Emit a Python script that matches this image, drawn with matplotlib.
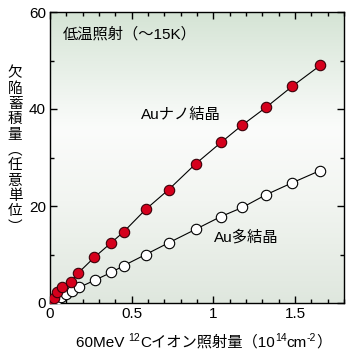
import numpy as np
import matplotlib
matplotlib.use("Agg")
import matplotlib.pyplot as plt
from matplotlib.colors import LinearSegmentedColormap
from matplotlib.ticker import MultipleLocator

plt.rcParams['font.family'] = ['Liberation Sans', 'Noto Sans CJK JP']

# data
nano_x = [0, 0.025, 0.045, 0.075, 0.127, 0.173, 0.271, 0.374, 0.452, 0.586, 0.727, 0.892, 1.047, 1.174, 1.325, 1.484, 1.655]
nano_y = [0, 1.0, 2.2, 3.2, 4.4, 6.2, 9.4, 12.4, 14.7, 19.3, 23.4, 28.7, 33.1, 36.6, 40.4, 44.7, 49.0]
poly_x = [0.005, 0.037, 0.067, 0.098, 0.133, 0.178, 0.274, 0.375, 0.451, 0.586, 0.726, 0.892, 1.045, 1.178, 1.321, 1.484, 1.653]
poly_y = [0, 0.5, 1.2, 1.8, 2.5, 3.2, 4.7, 6.3, 7.7, 10.0, 12.4, 15.2, 17.8, 19.7, 22.3, 24.8, 27.3]
x_ticks = [0, 0.5, 1, 1.5]
x_ticklabels = ['0', '0.5', '1', '1.5']
y_ticks = [0, 20, 40, 60]

W, H = 350, 357
fig = plt.figure(figsize=(W/100, H/100), dpi=100)
ax = fig.add_axes([50/W, 1-303/H, 294/W, 291/H])

# background gradient
cmap = LinearSegmentedColormap.from_list('bg', [
    (0.0, '#dfe7de'), (0.35, '#f2f5f1'), (0.6, '#fbfcfb'), (1.0, '#d5e4d5')])
grad = np.linspace(0, 1, 256).reshape(-1, 1)
ax.imshow(grad, aspect='auto', cmap=cmap, origin='lower',
          extent=[0, 1, 0, 1], transform=ax.transAxes, zorder=0)

ax.plot(poly_x, poly_y, '-', color='black', lw=0.8, zorder=2)
ax.plot(poly_x, poly_y, 'o', ms=7.5, mfc='white', mec='black', mew=0.8, zorder=3)
ax.plot(nano_x, nano_y, '-', color='black', lw=0.8, zorder=4)
ax.plot(nano_x, nano_y, 'o', ms=7.5, mfc='#d5001c', mec='#3a0008', mew=0.8, zorder=5)

ax.set_xlim(0, 1.8)
ax.set_ylim(0, 60)
ax.set_xticks(x_ticks)
ax.set_xticklabels(x_ticklabels)
ax.set_yticks(y_ticks)
ax.xaxis.set_minor_locator(MultipleLocator(0.1))
ax.yaxis.set_minor_locator(MultipleLocator(10))
ax.tick_params(which='both', direction='in', top=True, right=True, labelsize=11, width=1)
ax.tick_params(which='major', length=5, pad=3)
ax.tick_params(which='minor', length=3)
for s in ax.spines.values():
    s.set_linewidth(1)

ax.text(0.045, 0.925, '低温照射（～15K）', transform=ax.transAxes, fontsize=11, va='center', ha='left')
ax.text(0.31, 0.645, 'Auナノ結晶', transform=ax.transAxes, fontsize=11, va='center', ha='left')
ax.text(0.558, 0.227, 'Au多結晶', transform=ax.transAxes, fontsize=11, va='center', ha='left')

ylab = ['欠', '陥', '蓄', '積', '量', '︵', '任', '意', '単', '位', '︶']
fig.text(15/W, 1-150/H, '\n'.join(ylab), fontsize=10.5, ha='center', va='center',
         linespacing=1.12, family=['Noto Sans CJK JP'])

# x label built from pieces (superscripts), laid out manually
pieces = [('60MeV ', False), ('12', True), ('Cイオン照射量（10', False), ('14', True),
          ('cm', False), ('-2', True), ('）', False)]
renderer = fig.canvas.get_renderer()
x_px = 76.0
base_px = H - 347.0
for txt, sup in pieces:
    fs = 7.5 if sup else 11
    yb = base_px + (6 if sup else 0)
    t = fig.text(x_px / W, yb / H, txt, fontsize=fs, ha='left', va='baseline')
    x_px += t.get_window_extent(renderer).width

fig.savefig('out.png', dpi=100)
